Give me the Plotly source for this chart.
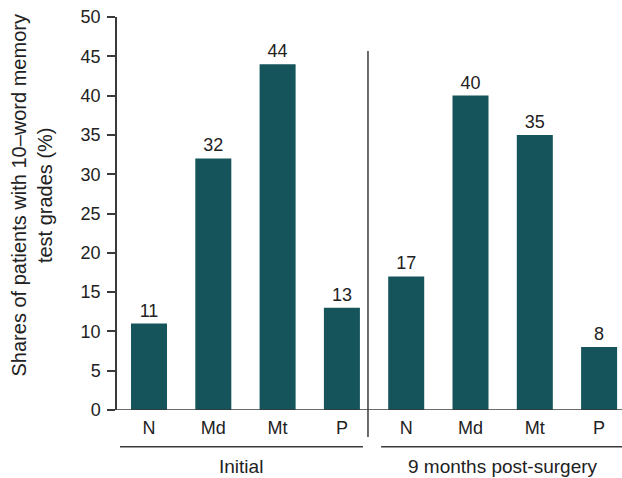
import plotly.graph_objects as go

# Memory test grade shares, before surgery and 9 months after
grades = ["N", "Md", "Mt", "P"]
groups = ["Initial", "9 months post-surgery"]
initial = [11, 32, 44, 13]
post_surgery = [17, 40, 35, 8]

values = initial + post_surgery
tick_text = grades + grades
positions = list(range(len(values)))

BAR = "#14545A"
INK = "#3a3a3a"
TXT = "#222222"
FONT = "Liberation Sans, Arial, Helvetica, sans-serif"

fig = go.Figure(
    go.Bar(
        x=positions,
        y=values,
        width=0.56,
        marker=dict(color=BAR, line=dict(width=0)),
        text=values,
        textposition="outside",
        textfont=dict(size=18, color=TXT, family=FONT),
        cliponaxis=False,
    )
)

fig.update_layout(
    width=622,
    height=478,
    margin=dict(l=117, r=0, t=17, b=68),
    plot_bgcolor="white",
    paper_bgcolor="white",
    showlegend=False,
    font=dict(family=FONT, size=18, color=TXT),
    xaxis=dict(
        range=[-0.4977, 7.356],
        tickmode="array",
        tickvals=positions,
        ticktext=tick_text,
        showgrid=False,
        zeroline=False,
        showline=False,
        ticks="",
        ticklabelstandoff=5,
        tickfont=dict(size=18, color=TXT),
    ),
    yaxis=dict(
        range=[0, 50],
        tickmode="linear",
        tick0=0,
        dtick=5,
        showgrid=False,
        zeroline=False,
        showline=True,
        linecolor=INK,
        linewidth=1.5,
        ticks="outside",
        ticklen=8,
        tickwidth=1.5,
        tickcolor=INK,
        ticklabelstandoff=3,
        tickfont=dict(size=18, color=TXT),
    ),
)

# x axis baseline, running a little past the y axis on the left
fig.add_shape(type="line", xref="paper", yref="y", x0=-0.0178, x1=1, y0=0, y1=0,
              line=dict(color=INK, width=1.5))

# divider between the two time points
fig.add_shape(type="line", xref="paper", yref="paper", x0=0.497, x1=0.497,
              y0=-0.0687, y1=0.9135, line=dict(color=INK, width=1.5))

# group underlines and labels
spans = [(0.006, 0.487), (0.523, 1.0)]
centers = [0.2455, 0.764]
for (a, b), c, name in zip(spans, centers, groups):
    fig.add_shape(type="line", xref="paper", yref="paper", x0=a, x1=b,
                  y0=-0.0933, y1=-0.0933, line=dict(color=INK, width=1.5))
    fig.add_annotation(x=c, y=-0.145, xref="paper", yref="paper", text=name,
                       showarrow=False, xanchor="center", yanchor="middle",
                       font=dict(size=19, color=TXT))

fig.add_annotation(
    x=-0.169, y=0.545, xref="paper", yref="paper",
    text="Shares of patients with 10–word memory<br>test grades (%)",
    textangle=-90, showarrow=False, xanchor="center", yanchor="middle",
    font=dict(size=20, color=TXT),
)

fig.write_html("out.html")
